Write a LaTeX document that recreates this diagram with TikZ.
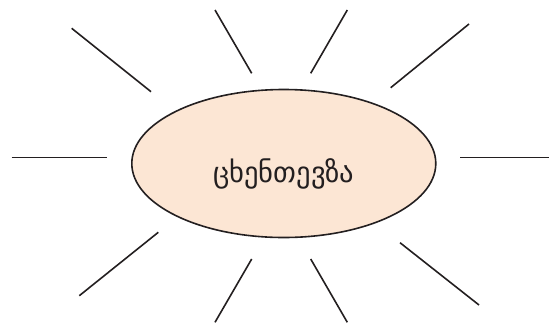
\documentclass[tikz,border=0pt]{standalone}
\usepackage{fontspec}
\usetikzlibrary{shapes.geometric}
\newfontfamily\geofont{DejaVu Sans}
\definecolor{rayink}{HTML}{231F20}
\definecolor{bodyfill}{HTML}{FCE6D4}

\begin{document}
\begin{tikzpicture}[
  x=1pt,
  y=-1pt,
  ray/.style={rayink, line width=1.6pt},
  body/.style={ellipse, draw=rayink, line width=1.6pt, fill=bodyfill,
               minimum width=304pt, minimum height=148pt, inner sep=0pt},
  word/.style={font=\geofont\fontsize{28.5}{32}\selectfont, rayink, inner sep=0pt}
]
  % ---- fixed frame, same size as the reference ----
  \path[use as bounding box] (0,0) rectangle (549,325);

  % ---- the central ellipse and its word ----
  \node[body] (sea) at (283.8,163.5) {};
  \node[word] (seahorse) at ([yshift=-10pt]sea.center) {ცხენთევზა};

  % ---- rays round the ellipse ----
  \foreach \xa/\ya/\xb/\yb in {
      11.6/157.3/106.8/157.3,   71.7/28.3/151/91.7,
      215/10/251.7/73.3,        347.3/10/310.7/73.3,
      469/24/390.7/87.7,        460.3/157.3/548.8/157.3,
      400/242.7/479/305,        310.7/259/347.3/322.3,
      251.7/259/215/322.3,      158.3/232.3/79.3/295.7}
    \draw[ray] (\xa,\ya) -- (\xb,\yb);
\end{tikzpicture}
\end{document}
